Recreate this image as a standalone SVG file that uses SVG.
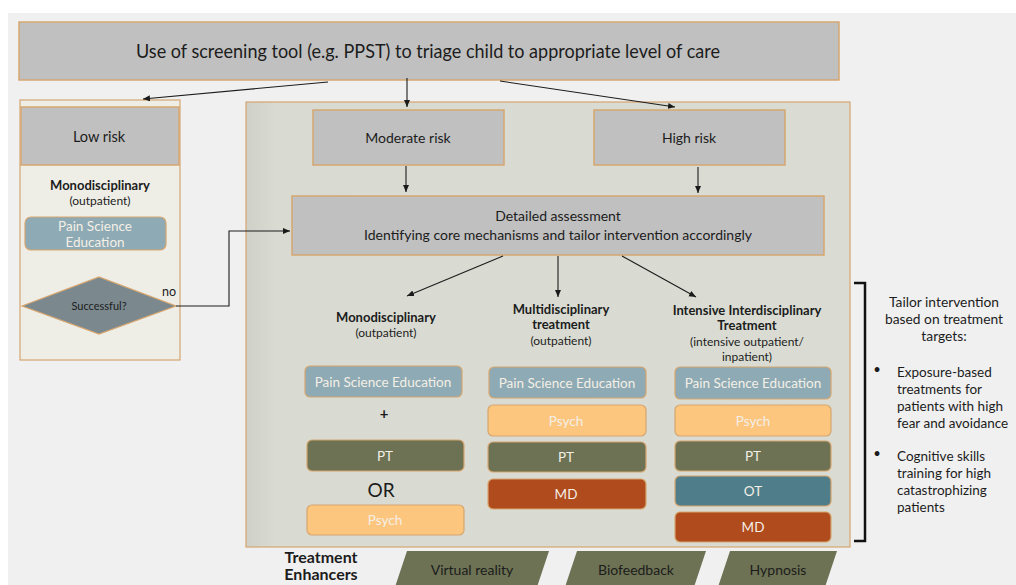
<svg xmlns="http://www.w3.org/2000/svg" width="1016" height="585" viewBox="0 0 1016 585">
<defs>
<marker id="ah" markerWidth="8" markerHeight="8" refX="7" refY="4" orient="auto" markerUnits="userSpaceOnUse">
<path d="M0,1 L7,4 L0,7 Z" fill="#1a1a1a"/>
</marker>
<linearGradient id="mainfill" x1="0" y1="0" x2="1" y2="0">
<stop offset="0" stop-color="#cfd1c8"/>
<stop offset="0.05" stop-color="#d9dbd2"/>
<stop offset="1" stop-color="#dadcd3"/>
</linearGradient>
</defs>
<style>
text{font-family:Lato,"Open Sans","DejaVu Sans",sans-serif;fill:#1c1c1c;text-anchor:middle}
.gray{fill:#c0c0c0;stroke:#d6a670;stroke-width:1.5}
.b{font-weight:bold}
.w{fill:#f4efe6}
.s{text-anchor:start}
.pse{fill:#8eaab4;stroke:#d6a670;stroke-width:1.2}
.psy{fill:#fdc67f;stroke:#d6a670;stroke-width:1.2}
.pt{fill:#6c7253;stroke:#d6a670;stroke-width:1.2}
.md{fill:#b04b1d;stroke:#d6a670;stroke-width:1.2}
.ot{fill:#4f7e8a;stroke:#d6a670;stroke-width:1.2}
.enh{fill:#6c7253}
.con{stroke:#1c1c1c;stroke-width:1.1;fill:none}
</style>
<rect x="0" y="0" width="1016" height="585" fill="#ffffff"/>
<rect x="8" y="13" width="1008" height="572" fill="#f0f0f0"/>

<g id="screening">
<rect class="gray" x="19" y="22" width="820" height="58"/>
<text x="428" y="58" font-size="20" textLength="584" lengthAdjust="spacingAndGlyphs">Use of screening tool (e.g. PPST) to triage child to appropriate level of care</text>
</g>

<g id="low-panel">
<rect x="20" y="100" width="160" height="260" fill="#eeeee7" stroke="#d6a670" stroke-width="1.2"/>
</g>
<g id="main-panel">
<rect x="246" y="102" width="604" height="445" fill="url(#mainfill)" stroke="#d6a670" stroke-width="1.2"/>
</g>

<g id="low-risk">
<rect class="gray" x="21" y="107" width="158" height="58"/>
<text x="99" y="142" font-size="14.5">Low risk</text>
</g>
<g id="low-mono">
<text class="b" x="100" y="190" font-size="13">Monodisciplinary</text>
<text x="100" y="205" font-size="12">(outpatient)</text>
</g>
<g id="low-pse">
<rect class="pse" x="25" y="217" width="141" height="33" rx="6"/>
<text class="w" x="95" y="231" font-size="13.5">Pain Science</text>
<text class="w" x="95" y="247" font-size="13.5">Education</text>
</g>
<g id="successful">
<polygon points="22,306 99,277 176,306 99,334" fill="#7b898e" stroke="#d6a670" stroke-width="1.2"/>
<text x="99" y="310" font-size="11">Successful?</text>
</g>
<text x="169" y="296" font-size="12.5">no</text>

<g id="moderate-risk">
<rect class="gray" x="313" y="110" width="191" height="55"/>
<text x="408" y="143" font-size="14">Moderate risk</text>
</g>
<g id="high-risk">
<rect class="gray" x="594" y="110" width="191" height="55"/>
<text x="689" y="143" font-size="14">High risk</text>
</g>
<g id="assessment">
<rect class="gray" x="292" y="196" width="532" height="59"/>
<text x="558" y="221" font-size="14">Detailed assessment</text>
<text x="558" y="240" font-size="14">Identifying core mechanisms and tailor intervention accordingly</text>
</g>

<g id="col-mono">
<text class="b" x="386" y="322" font-size="13">Monodisciplinary</text>
<text x="386" y="337" font-size="12">(outpatient)</text>
<rect class="pse" x="305" y="366" width="157" height="31" rx="5"/>
<text class="w" x="383" y="387" font-size="13.5">Pain Science Education</text>
<text class="b" x="384" y="419" font-size="15">+</text>
<rect class="pt" x="307" y="440" width="157" height="31" rx="5"/>
<text class="w" x="385" y="461" font-size="13.5">PT</text>
<text x="381" y="497" font-size="19">OR</text>
<rect class="psy" x="307" y="505" width="157" height="30" rx="5"/>
<text class="w" x="385" y="525" font-size="13.5">Psych</text>
</g>

<g id="col-multi">
<text class="b" x="561" y="314" font-size="13">Multidisciplinary</text>
<text class="b" x="561" y="329" font-size="13">treatment</text>
<text x="561" y="345" font-size="12">(outpatient)</text>
<rect class="pse" x="489" y="367" width="157" height="31" rx="5"/>
<text class="w" x="567" y="388" font-size="13.5">Pain Science Education</text>
<rect class="psy" x="488" y="405" width="158" height="31" rx="5"/>
<text class="w" x="566" y="426" font-size="13.5">Psych</text>
<rect class="pt" x="488" y="442" width="158" height="30" rx="5"/>
<text class="w" x="566" y="462" font-size="13.5">PT</text>
<rect class="md" x="488" y="479" width="158" height="30" rx="5"/>
<text class="w" x="566" y="499" font-size="13.5">MD</text>
</g>

<g id="col-intensive">
<text class="b" x="747" y="315" font-size="13">Intensive Interdisciplinary</text>
<text class="b" x="747" y="330" font-size="13">Treatment</text>
<text x="747" y="346" font-size="12">(intensive outpatient/</text>
<text x="747" y="361" font-size="12">inpatient)</text>
<rect class="pse" x="675" y="367" width="156" height="32" rx="5"/>
<text class="w" x="753" y="388" font-size="13.5">Pain Science Education</text>
<rect class="psy" x="675" y="405" width="156" height="31" rx="5"/>
<text class="w" x="753" y="426" font-size="13.5">Psych</text>
<rect class="pt" x="675" y="441" width="156" height="30" rx="5"/>
<text class="w" x="753" y="461" font-size="13.5">PT</text>
<rect class="ot" x="675" y="476" width="156" height="30" rx="5"/>
<text class="w" x="753" y="496" font-size="13.5">OT</text>
<rect class="md" x="675" y="512" width="156" height="30" rx="5"/>
<text class="w" x="753" y="532" font-size="13.5">MD</text>
</g>

<g id="bracket">
<path d="M854,283 L865,283 L865,541 L854,541" fill="none" stroke="#111" stroke-width="2.5"/>
</g>

<g id="tailor-notes">
<text x="944" y="307" font-size="13.8">Tailor intervention</text>
<text x="944" y="324" font-size="13.8">based on treatment</text>
<text x="944" y="341" font-size="13.8">targets:</text>
<text x="877" y="374" font-size="13">•</text>
<text class="s" x="897" y="377" font-size="13.5">Exposure-based</text>
<text class="s" x="897" y="394" font-size="13.5">treatments for</text>
<text class="s" x="897" y="411" font-size="13.5">patients with high</text>
<text class="s" x="897" y="428" font-size="13.5">fear and avoidance</text>
<text x="877" y="458" font-size="13">•</text>
<text class="s" x="897" y="461" font-size="13.5">Cognitive skills</text>
<text class="s" x="897" y="478" font-size="13.5">training for high</text>
<text class="s" x="897" y="495" font-size="13.5">catastrophizing</text>
<text class="s" x="897" y="512" font-size="13.5">patients</text>
</g>

<g id="enhancers-label">
<text class="b" x="321" y="563" font-size="16">Treatment</text>
<text class="b" x="321" y="580" font-size="16">Enhancers</text>
</g>
<g id="virtual-reality">
<polygon class="enh" points="407,551 549,551 536,590 394,590"/>
<text x="472" y="575" font-size="14">Virtual reality</text>
</g>
<g id="biofeedback">
<polygon class="enh" points="577,551 706,551 693,590 564,590"/>
<text x="636" y="575" font-size="14">Biofeedback</text>
</g>
<g id="hypnosis">
<polygon class="enh" points="730,551 837,551 824,590 717,590"/>
<text x="778" y="575" font-size="14">Hypnosis</text>
</g>

<g id="connectors">
<line class="con" x1="328" y1="82" x2="143" y2="99" marker-end="url(#ah)"/>
<line class="con" x1="407" y1="78" x2="407" y2="107" marker-end="url(#ah)"/>
<line class="con" x1="500" y1="81" x2="675" y2="107" marker-end="url(#ah)"/>
<line class="con" x1="406" y1="166" x2="406" y2="192" marker-end="url(#ah)"/>
<line class="con" x1="698" y1="167" x2="698" y2="193" marker-end="url(#ah)"/>
<polyline class="con" points="176,306 229,306 229,231 290,231" marker-end="url(#ah)"/>
<line class="con" x1="503" y1="256" x2="407" y2="296" marker-end="url(#ah)"/>
<line class="con" x1="558" y1="256" x2="558" y2="297" marker-end="url(#ah)"/>
<line class="con" x1="622" y1="256" x2="696" y2="297" marker-end="url(#ah)"/>
</g>
</svg>
